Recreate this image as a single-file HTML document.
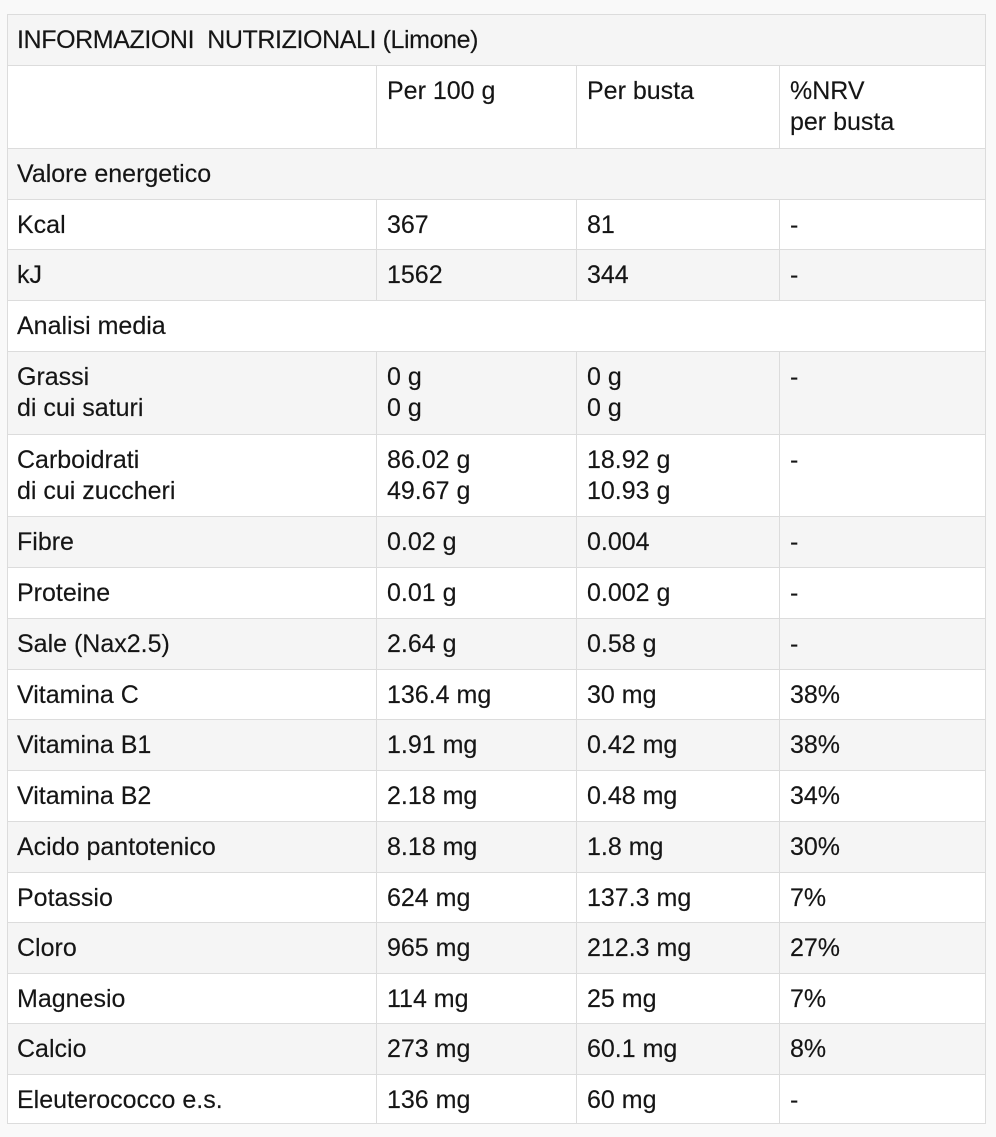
<!DOCTYPE html>
<html>
<head>
<meta charset="utf-8">
<style>
  html,body{margin:0;padding:0;}
  body{width:996px;height:1137px;background:#f9f9f9;position:relative;overflow:hidden;
    font-family:"Liberation Sans",sans-serif;color:#151515;}
  .tbl{position:absolute;left:7px;top:14px;width:979px;height:1110px;box-sizing:border-box;
    border:1px solid #dcdcdc;background:#fff;}
  .r{position:absolute;left:0;width:977px;box-sizing:border-box;border-top:1px solid #dcdcdc;}
  .r.first{border-top:none;}
  .g{background:#f5f5f5;}
  .w{background:#fff;}
  .v{position:absolute;top:0;bottom:0;width:1px;background:#dcdcdc;}
  .t{position:absolute;top:10px;font-size:25px;line-height:30.5px;white-space:nowrap;-webkit-text-stroke:0.15px #151515;}
  .c1{left:9px;}
  .c2{left:379px;}
  .c3{left:579px;}
  .c4{left:782px;}
  .title{letter-spacing:-0.4px;}
</style>
</head>
<body>
<div class="tbl">

  <div class="r first g" style="top:0;height:50px;">
    <div class="t c1 title">INFORMAZIONI&nbsp; NUTRIZIONALI (Limone)</div>
  </div>

  <div class="r w" style="top:50px;height:83px;">
    <div class="v" style="left:368px"></div><div class="v" style="left:568px"></div><div class="v" style="left:771px"></div>
    <div class="t c2">Per 100 g</div>
    <div class="t c3">Per busta</div>
    <div class="t c4">%NRV<br>per busta</div>
  </div>

  <div class="r g" style="top:133px;height:51px;">
    <div class="t c1">Valore energetico</div>
  </div>

  <div class="r w" style="top:184px;height:50px;">
    <div class="v" style="left:368px"></div><div class="v" style="left:568px"></div><div class="v" style="left:771px"></div>
    <div class="t c1">Kcal</div><div class="t c2">367</div><div class="t c3">81</div><div class="t c4">-</div>
  </div>

  <div class="r g" style="top:234px;height:51px;">
    <div class="v" style="left:368px"></div><div class="v" style="left:568px"></div><div class="v" style="left:771px"></div>
    <div class="t c1">kJ</div><div class="t c2">1562</div><div class="t c3">344</div><div class="t c4">-</div>
  </div>

  <div class="r w" style="top:285px;height:51px;">
    <div class="t c1">Analisi media</div>
  </div>

  <div class="r g" style="top:336px;height:83px;">
    <div class="v" style="left:368px"></div><div class="v" style="left:568px"></div><div class="v" style="left:771px"></div>
    <div class="t c1">Grassi<br>di cui saturi</div><div class="t c2">0 g<br>0 g</div><div class="t c3">0 g<br>0 g</div><div class="t c4">-</div>
  </div>

  <div class="r w" style="top:419px;height:82px;">
    <div class="v" style="left:368px"></div><div class="v" style="left:568px"></div><div class="v" style="left:771px"></div>
    <div class="t c1">Carboidrati<br>di cui zuccheri</div><div class="t c2">86.02 g<br>49.67 g</div><div class="t c3">18.92 g<br>10.93 g</div><div class="t c4">-</div>
  </div>

  <div class="r g" style="top:501px;height:51px;">
    <div class="v" style="left:368px"></div><div class="v" style="left:568px"></div><div class="v" style="left:771px"></div>
    <div class="t c1">Fibre</div><div class="t c2">0.02 g</div><div class="t c3">0.004</div><div class="t c4">-</div>
  </div>

  <div class="r w" style="top:552px;height:51px;">
    <div class="v" style="left:368px"></div><div class="v" style="left:568px"></div><div class="v" style="left:771px"></div>
    <div class="t c1">Proteine</div><div class="t c2">0.01 g</div><div class="t c3">0.002 g</div><div class="t c4">-</div>
  </div>

  <div class="r g" style="top:603px;height:51px;">
    <div class="v" style="left:368px"></div><div class="v" style="left:568px"></div><div class="v" style="left:771px"></div>
    <div class="t c1">Sale (Nax2.5)</div><div class="t c2">2.64 g</div><div class="t c3">0.58 g</div><div class="t c4">-</div>
  </div>

  <div class="r w" style="top:654px;height:50px;">
    <div class="v" style="left:368px"></div><div class="v" style="left:568px"></div><div class="v" style="left:771px"></div>
    <div class="t c1">Vitamina C</div><div class="t c2">136.4 mg</div><div class="t c3">30 mg</div><div class="t c4">38%</div>
  </div>

  <div class="r g" style="top:704px;height:51px;">
    <div class="v" style="left:368px"></div><div class="v" style="left:568px"></div><div class="v" style="left:771px"></div>
    <div class="t c1">Vitamina B1</div><div class="t c2">1.91 mg</div><div class="t c3">0.42 mg</div><div class="t c4">38%</div>
  </div>

  <div class="r w" style="top:755px;height:51px;">
    <div class="v" style="left:368px"></div><div class="v" style="left:568px"></div><div class="v" style="left:771px"></div>
    <div class="t c1">Vitamina B2</div><div class="t c2">2.18 mg</div><div class="t c3">0.48 mg</div><div class="t c4">34%</div>
  </div>

  <div class="r g" style="top:806px;height:51px;">
    <div class="v" style="left:368px"></div><div class="v" style="left:568px"></div><div class="v" style="left:771px"></div>
    <div class="t c1">Acido pantotenico</div><div class="t c2">8.18 mg</div><div class="t c3">1.8 mg</div><div class="t c4">30%</div>
  </div>

  <div class="r w" style="top:857px;height:50px;">
    <div class="v" style="left:368px"></div><div class="v" style="left:568px"></div><div class="v" style="left:771px"></div>
    <div class="t c1">Potassio</div><div class="t c2">624 mg</div><div class="t c3">137.3 mg</div><div class="t c4">7%</div>
  </div>

  <div class="r g" style="top:907px;height:51px;">
    <div class="v" style="left:368px"></div><div class="v" style="left:568px"></div><div class="v" style="left:771px"></div>
    <div class="t c1">Cloro</div><div class="t c2">965 mg</div><div class="t c3">212.3 mg</div><div class="t c4">27%</div>
  </div>

  <div class="r w" style="top:958px;height:50px;">
    <div class="v" style="left:368px"></div><div class="v" style="left:568px"></div><div class="v" style="left:771px"></div>
    <div class="t c1">Magnesio</div><div class="t c2">114 mg</div><div class="t c3">25 mg</div><div class="t c4">7%</div>
  </div>

  <div class="r g" style="top:1008px;height:51px;">
    <div class="v" style="left:368px"></div><div class="v" style="left:568px"></div><div class="v" style="left:771px"></div>
    <div class="t c1">Calcio</div><div class="t c2">273 mg</div><div class="t c3">60.1 mg</div><div class="t c4">8%</div>
  </div>

  <div class="r w" style="top:1059px;height:49px;">
    <div class="v" style="left:368px"></div><div class="v" style="left:568px"></div><div class="v" style="left:771px"></div>
    <div class="t c1">Eleuterococco e.s.</div><div class="t c2">136 mg</div><div class="t c3">60 mg</div><div class="t c4">-</div>
  </div>

</div>
</body>
</html>
